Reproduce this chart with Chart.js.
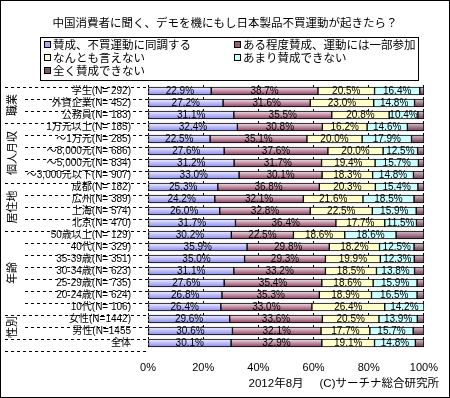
<!DOCTYPE html>
<html>
<head>
<meta charset="utf-8">
<script src="https://cdn.jsdelivr.net/npm/chart.js@4"></script>
<style>
  body { margin: 0; background: #fff; }
  #wrap { position: relative; width: 450px; height: 398px; font-family: "Liberation Sans", "Noto Sans CJK JP", sans-serif; color: #000; }
  #myChart { position: absolute; left: 0; top: 0; }
  #frame { position: absolute; left: 0; top: 0; width: 450px; height: 398px; box-sizing: border-box; border: 1px solid #000; pointer-events: none; }
  #title { position: absolute; left: 0; top: 16px; width: 450px; text-align: center; font-size: 11.5px; line-height: 15px; }
  #legend { position: absolute; left: 40px; top: 37px; width: 379px; height: 44px; box-sizing: border-box; border: 1px solid #000; font-size: 11.5px; background: #fff; }
  .item { position: absolute; line-height: 13px; white-space: nowrap; }
  .item i { display: inline-block; width: 5px; height: 5px; border: 1px solid #000; margin-right: 2px; vertical-align: 1px; }
  #footer { position: absolute; right: 11px; top: 376px; font-size: 11.5px; line-height: 14px; white-space: nowrap; }
  #footer span + span { margin-left: 16px; }
</style>
</head>
<body>
<div id="wrap">
  <canvas id="myChart" width="450" height="398"></canvas>
  <div id="title">中国消費者に聞く、デモを機にもし日本製品不買運動が起きたら？</div>
  <div id="legend"></div>
  <div id="footer"><span>2012年8月</span><span>(C)サーチナ総合研究所</span></div>
  <div id="frame"></div>
</div>
<script>
// categorias y grupos
const categories = ['学生(N= 292)', '外資企業(N= 452)', '公務員(N= 183)', '1万元以上(N= 185)', '～1万元(N= 285)', '～8,000元(N= 686)', '～5,000元(N= 834)', '～3,000元以下(N= 907)', '成都(N= 182)', '広州(N= 389)', '上海(N= 574)', '北京(N= 470)', '50歳以上(N= 129)', '40代(N= 329)', '35-39歳(N= 351)', '30-34歳(N= 623)', '25-29歳(N= 735)', '20-24歳(N= 624)', '10代(N= 106)', '女性(N=1442)', '男性(N=1455', '全体'];
const groupNames = ['職業', '個人月収', '居住地', '年齢', '性別', ''];
const groupSizes = [3, 5, 4, 7, 2, 1];

const seriesNames = ['賛成、不買運動に同調する', 'ある程度賛成、運動には一部参加', 'なんとも言えない', 'あまり賛成できない', '全く賛成できない'];
const agree = [22.9, 27.2, 31.1, 32.4, 22.5, 27.6, 31.2, 33.0, 25.3, 24.2, 26.0, 31.7, 30.2, 35.9, 35.0, 31.1, 27.6, 26.8, 26.4, 29.6, 30.6, 30.1];
const partly = [38.7, 31.6, 35.5, 30.8, 35.1, 37.6, 31.7, 30.1, 36.8, 32.1, 32.8, 36.4, 22.5, 29.8, 29.3, 33.2, 35.4, 35.3, 33.0, 33.6, 32.1, 32.9];
const neutral = [20.5, 23.0, 20.8, 16.2, 20.0, 20.0, 19.4, 18.3, 20.3, 21.6, 22.5, 17.7, 18.6, 18.2, 19.9, 18.5, 18.6, 18.9, 26.4, 20.5, 17.7, 19.1];
const notMuch = [16.4, 14.8, 10.4, 14.6, 17.9, 12.5, 15.7, 14.8, 15.4, 18.5, 15.9, 11.5, 18.6, 12.5, 12.3, 13.8, 15.9, 16.5, 14.2, 13.9, 15.7, 14.8];
const notAtAll = [1.5, 3.4, 2.2, 6.0, 4.5, 2.3, 2.0, 3.8, 2.2, 3.6, 2.8, 2.7, 10.1, 3.6, 3.5, 3.4, 2.5, 2.5, 0.0, 2.4, 3.9, 3.1];
const xTicks = [0, 20, 40, 60, 80, 100];

const FONT = '"Liberation Sans", "Noto Sans CJK JP", sans-serif';
const legendColors = ['#a8a8ee', '#93607a', '#ffffcc', '#ccffff', '#7a5a68'];

// degradado vertical dentro de cada barra
function barGradient(top, bottom) {
  return function (c) {
    if (c.type !== 'data') return bottom;
    const yScale = c.chart.scales.y;
    if (!yScale) return bottom;
    const y = yScale.getPixelForValue(c.dataIndex);
    if (!Number.isFinite(y)) return bottom;
    const g = c.chart.ctx.createLinearGradient(0, y - 4, 0, y + 4);
    g.addColorStop(0, top);
    g.addColorStop(1, bottom);
    return g;
  };
}

const valueLabels = {
  id: 'valueLabels',
  afterDatasetsDraw(chart) {
    const ctx = chart.ctx;
    ctx.save();
    ctx.font = '10px ' + FONT;
    ctx.fillStyle = '#000';
    ctx.textAlign = 'center';
    ctx.textBaseline = 'middle';
    for (let d = 0; d < 4; d++) {
      const meta = chart.getDatasetMeta(d);
      meta.data.forEach((bar, i) => {
        const v = chart.data.datasets[d].data[i];
        ctx.fillText(v.toFixed(1) + '%', (bar.x + bar.base) / 2, bar.y + 0.5);
      });
    }
    ctx.restore();
  }
};

// separadores punteados y etiquetas de grupo a la izquierda
const groupAxis = {
  id: 'groupAxis',
  afterDraw(chart) {
    const ctx = chart.ctx;
    const y = chart.scales.y;
    const pitch = y.getPixelForValue(1) - y.getPixelForValue(0);
    const edge = (i) => y.getPixelForValue(i) - pitch / 2 + 2;
    const groupEdges = [0];
    groupSizes.forEach((n) => groupEdges.push(groupEdges[groupEdges.length - 1] + n));
    ctx.save();
    ctx.strokeStyle = '#000';
    ctx.lineWidth = 1;
    ctx.setLineDash([3, 3]);
    for (let i = 0; i <= categories.length; i++) {
      const yy = Math.round(edge(i)) + 0.5;
      const x0 = groupEdges.includes(i) ? 5 : 25;
      ctx.beginPath();
      ctx.moveTo(x0, yy);
      ctx.lineTo(chart.chartArea.left, yy);
      ctx.stroke();
    }
    ctx.setLineDash([]);
    ctx.fillStyle = '#000';
    ctx.font = '11px ' + FONT;
    ctx.textAlign = 'center';
    ctx.textBaseline = 'middle';
    groupNames.forEach((name, g) => {
      if (!name) return;
      const cy = (edge(groupEdges[g]) + edge(groupEdges[g + 1])) / 2;
      ctx.save();
      ctx.translate(13, cy);
      ctx.rotate(-Math.PI / 2);
      ctx.fillText(name, 0, 0);
      ctx.restore();
    });
    ctx.restore();
  }
};

const values = [agree, partly, neutral, notMuch, notAtAll];
const fills = [
  barGradient('#f2f2ff', '#8888ee'),
  barGradient('#f3e4ea', '#8a3d5e'),
  '#ffffcc',
  '#ccffff',
  barGradient('#d8c4cc', '#6e3a52'),
];

const ctx = document.getElementById('myChart').getContext('2d');
const myChart = new Chart(ctx, {
  type: 'bar',
  data: {
    labels: categories,
    datasets: values.map((data, k) => ({
      label: seriesNames[k],
      data: data,
      backgroundColor: fills[k],
      borderColor: '#000',
      borderWidth: 1,
      borderSkipped: false,
      barThickness: 8,
    })),
  },
  options: {
    responsive: false,
    animation: false,
    indexAxis: 'y',
    layout: { padding: { left: 0, right: 26, top: 85, bottom: 25 } },
    plugins: { legend: { display: false }, tooltip: { enabled: false } },
    scales: {
      x: {
        stacked: true,
        min: 0,
        max: 100,
        afterBuildTicks: (s) => { s.ticks = xTicks.map((v) => ({ value: v })); },
        afterFit: (s) => { s.height = 24; },
        ticks: { color: '#000', font: { size: 11, family: FONT }, padding: 12, maxRotation: 0, callback: (v) => v + '%' },
        grid: { color: '#000', drawTicks: false },
        border: { display: false, dash: [2, 2] },
      },
      y: {
        stacked: true,
        afterFit: (s) => { s.width = 148; },
        ticks: { color: '#000', autoSkip: false, font: { size: 10, family: FONT }, padding: 9 },
        grid: { display: false },
        border: { display: false },
      },
    },
  },
  plugins: [valueLabels, groupAxis],
});

// leyenda en dos columnas
const legend = document.getElementById('legend');
const spots = [[3, 1], [193, 1], [3, 14], [193, 14], [3, 27]];
seriesNames.forEach((name, k) => {
  const div = document.createElement('div');
  div.className = 'item';
  div.style.left = spots[k][0] + 'px';
  div.style.top = spots[k][1] + 'px';
  div.innerHTML = '<i style="background:' + legendColors[k] + '"></i>' + name;
  legend.appendChild(div);
});
</script>
</body>
</html>
